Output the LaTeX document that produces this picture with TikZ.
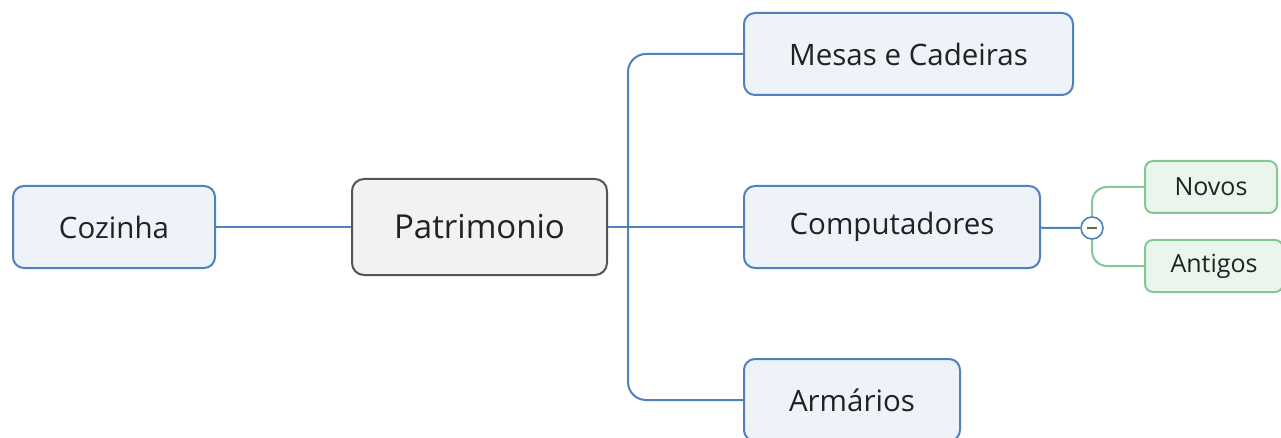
\documentclass[tikz,border=0pt]{standalone}
\usepackage{fontspec}
\setmainfont{Open Sans}
\usetikzlibrary{positioning}
\definecolor{topicline}{RGB}{79,129,189}
\definecolor{topicfill}{RGB}{238,243,250}
\definecolor{centerline}{RGB}{85,85,85}
\definecolor{centerfill}{RGB}{242,242,242}
\definecolor{leafline}{RGB}{130,200,150}
\definecolor{leaffill}{RGB}{234,245,238}
\definecolor{textdark}{RGB}{34,34,34}
\tikzset {
  map node/.style = {
    line width = 2pt,
    inner sep = 0,
    text = textdark
  },
  % central topic
  central/.style = {
    map node,
    draw = centerline,
    fill = centerfill,
    rounded corners = 12pt,
    minimum height = 96pt,
    font = \fontsize{33}{38}\selectfont
  },
  % main topic
  topic/.style = {
    map node,
    draw = topicline,
    fill = topicfill,
    rounded corners = 11pt,
    minimum height = 82pt,
    font = \fontsize{29.5}{34}\selectfont
  },
  % sub topic
  subtopic/.style = {
    map node,
    draw = leafline,
    fill = leaffill,
    rounded corners = 8pt,
    minimum height = 52pt,
    font = \fontsize{25}{29}\selectfont
  },
  % collapse button
  toggle/.style = {
    draw = topicline,
    fill = white,
    line width = 1.6pt,
    circle,
    minimum size = 22pt,
    inner sep = 0,
    path picture = {
      \draw[line width = 1.8pt, gray!80!black]
        ([xshift = -5pt]path picture bounding box.center) --
        ([xshift = 5pt]path picture bounding box.center);
    }
  }
}
\tikzset {
  % blue connector
  branch/.style = {
    draw = topicline,
    line width = 2pt,
    rounded corners = 18pt
  },
  % green connector
  twig/.style = {
    draw = leafline,
    line width = 2pt,
    rounded corners = 15pt
  }
}

\begin{document}
\begin{tikzpicture}[x = 1pt, y = -1pt]
    \useasboundingbox (0,0) rectangle (1281,438);

    \node[central, minimum width = 255pt] (patrimonio) at (479.5,227) {Patrimonio};
    \node[topic, minimum width = 202pt] (cozinha) at (114,227) {Cozinha};
    \node[topic, minimum width = 329pt] (mesas) at (908.5,54) {Mesas e Cadeiras};
    \node[topic, minimum width = 296pt] (computadores) at (892,227) {Computadores};
    \node[topic, minimum width = 216pt] (armarios) at (852,400) {Armários};
    \node[toggle] (toggle) at (1092,228) {};
    \node[subtopic, minimum width = 132pt] (novos) at (1211,187) {Novos};
    \node[subtopic, minimum width = 138pt] (antigos) at (1214,266) {Antigos};

    \draw[branch] (cozinha) -- (patrimonio);
    \draw[branch] (patrimonio) -- (computadores);
    \draw[branch] (mesas.west) -| ([xshift = 20pt]patrimonio.east) |- (armarios.west);
    \draw[branch] (computadores) -- (toggle);
    \draw[twig] (toggle.north) |- (novos.west);
    \draw[twig] (toggle.south) |- (antigos.west);
\end{tikzpicture}
\end{document}
